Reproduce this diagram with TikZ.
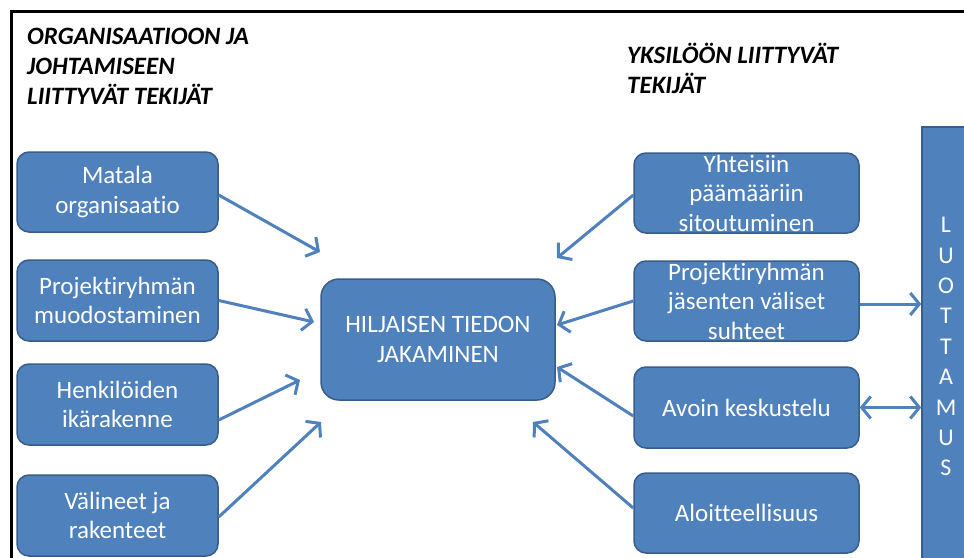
\documentclass[tikz,border=0pt]{standalone}
\usepackage{fontspec}
\setmainfont{Carlito}[Ligatures=NoCommon]
\usetikzlibrary{arrows.meta}
\definecolor{boxblue}{HTML}{4F81BD}
\definecolor{boxedge}{HTML}{385D8A}
\begin{document}
\begin{tikzpicture}[x=1pt,y=-1pt,
  box/.style={draw=boxedge, line width=1.5pt, fill=boxblue, rounded corners=12pt,
    text=white, align=center, font=\fontsize{25}{29.5}\selectfont, inner sep=0pt,
    minimum height=80pt},
  lbox/.style={box, minimum width=201pt},
  rbox/.style={box, minimum width=225pt},
  arr/.style={draw=boxblue, line width=3pt,
    -{Straight Barb[length=9pt,width=22pt,line width=3pt]}},
  dblarr/.style={draw=boxblue, line width=3pt,
    {Straight Barb[length=9pt,width=22pt,line width=3pt]}-{Straight Barb[length=9pt,width=22pt,line width=3pt]}},
  heading/.style={font=\fontsize{25}{30}\selectfont\bfseries\itshape, align=left,
    anchor=north west, inner sep=0pt}]
\useasboundingbox (0,0) rectangle (964,557);
\clip (0,0) rectangle (964,557);
\fill[white] (0,0) rectangle (964,557);
% frame
\draw[line width=3pt, black] (11,600) -- (11,11) -- (1000,11);
% headings
\node[heading] (hl) at (27,28) {ORGANISAATIOON JA\\JOHTAMISEEN\\LIITTYVÄT TEKIJÄT};
\node[heading] (hr) at (627,43) {YKSILÖÖN LIITTYVÄT\\TEKIJÄT};
% left boxes
\node[lbox] (m1) at (117.5,192) {Matala\\organisaatio};
\node[lbox, minimum height=81pt] (m2) at (117.5,300.5) {Projektiryhmän\\muodostaminen};
\node[lbox, minimum height=81pt] (m3) at (117.5,404.5) {Henkilöiden\\ikärakenne};
\node[lbox, minimum height=81pt] (m4) at (117.5,515.5) {Välineet ja\\rakenteet};
% center
\node[box, rounded corners=18pt, minimum width=234pt, minimum height=121pt] (c) at (438,339.5)
  {HILJAISEN TIEDON\\JAKAMINEN};
% right boxes
\node[rbox] (r1) at (746.5,193) {Yhteisiin\\päämääriin\\sitoutuminen};
\node[rbox] (r2) at (746.5,301) {Projektiryhmän\\jäsenten väliset\\suhteet};
\node[rbox, minimum height=81pt] (r3) at (746.5,407.5) {Avoin keskustelu};
\node[rbox] (r4) at (746.5,513) {Aloitteellisuus};
% trust bar
\node[draw=boxedge, line width=1.5pt, fill=boxblue, minimum width=60pt, minimum height=460pt,
  inner sep=0pt] (bar) at (952,357) {};
\node[text=white, align=center, anchor=north, inner sep=0pt,
  font=\fontsize{24}{30.4}\selectfont] (lt) at (946,217) {L\\U\\O\\T\\T\\A\\M\\U\\S};
% arrow tips
\coordinate (t1) at (320,252);
\coordinate (t2) at (314,322);
\coordinate (t3) at (300,380);
\coordinate (t4) at (321,422);
\coordinate (t5) at (557,258);
\coordinate (t6) at (557,325);
\coordinate (t7) at (557,367);
\coordinate (t8) at (533,422);
% arrows
\draw[arr] ([yshift=-3pt]m1.east) -- (t1);
\draw[arr] (m2.east) -- (t2);
\draw[arr] ([yshift=-15.5pt]m3.east) -- (t3);
\draw[arr] ([yshift=-1.5pt]m4.east) -- (t4);
\draw[arr] ([yshift=-2pt]r1.west) -- (t5);
\draw[arr] (r2.west) -- (t6);
\draw[arr] ([yshift=-8.5pt]r3.west) -- (t7);
\draw[arr] ([yshift=5pt]r4.west) -- (t8);
\draw[arr] ([yshift=-3pt]r2.east) -- ([yshift=-3pt]r2.east -| bar.west);
\draw[dblarr] (r3.east) -- (r3.east -| bar.west);
\end{tikzpicture}
\end{document}
